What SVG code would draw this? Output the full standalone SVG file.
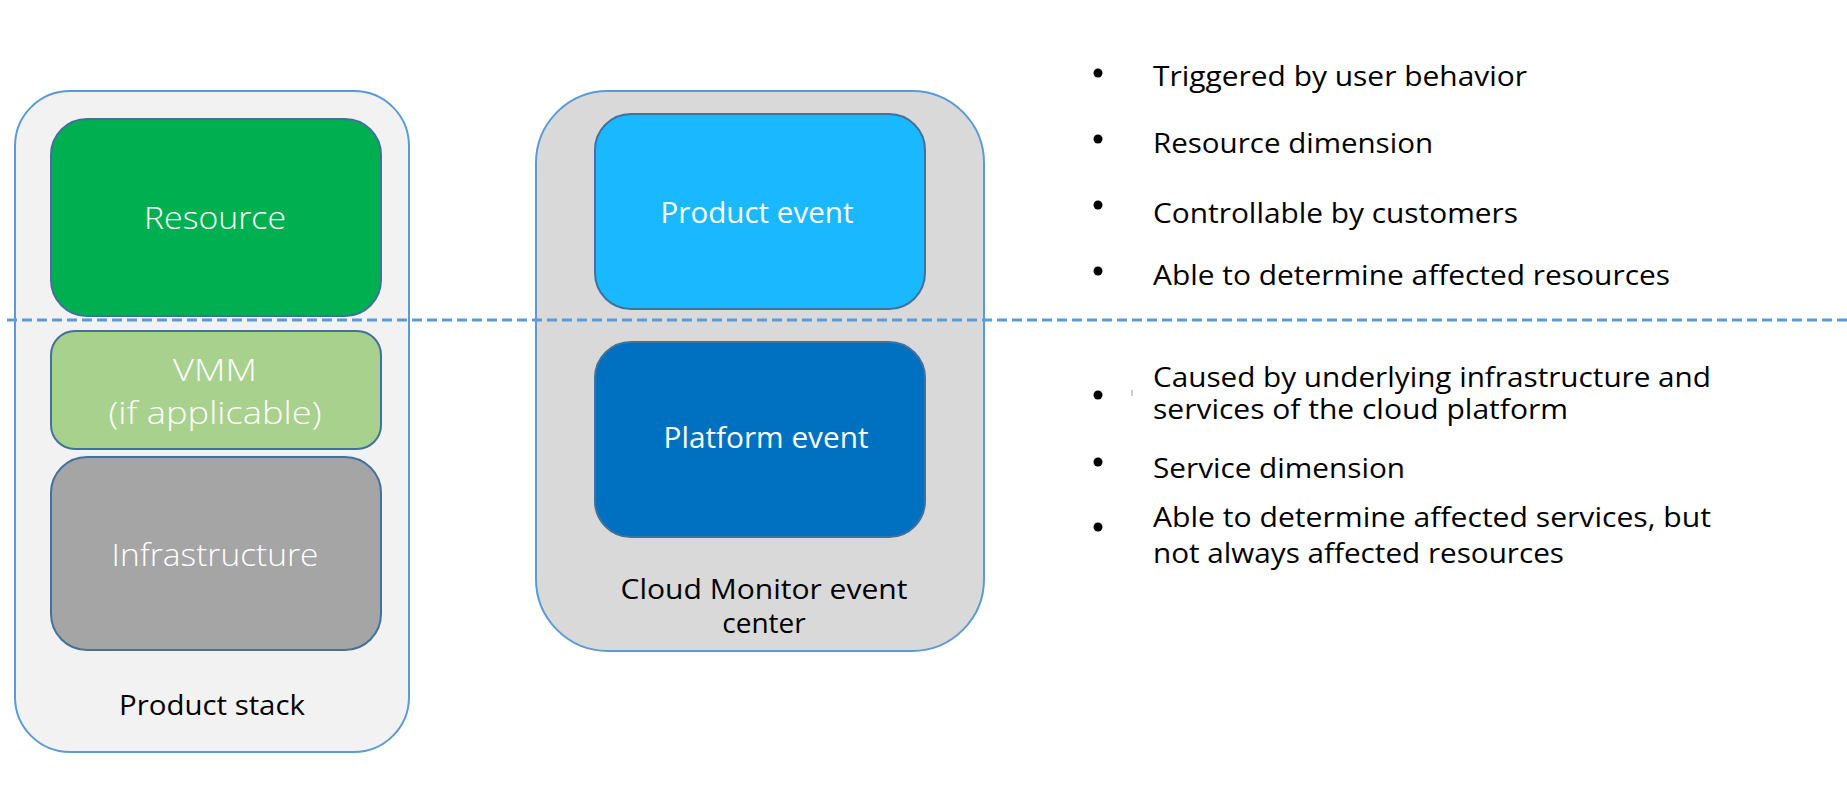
<svg xmlns="http://www.w3.org/2000/svg" width="1847" height="807" viewBox="0 0 1847 807">
<style>
.outer{stroke:#5b9bd5;stroke-width:2}
.inner{stroke:#41719c;stroke-width:2}
.wl{font-family:"Open Sans","Noto Sans",sans-serif;font-weight:300;font-size:31px;fill:#ffffff;text-anchor:middle}
.wr{font-family:"Open Sans","Noto Sans",sans-serif;font-size:29px;fill:#ffffff;text-anchor:middle}
.bk{font-family:"Open Sans","Noto Sans",sans-serif;font-size:28px;fill:#000000;text-anchor:middle}
.bt{font-family:"Open Sans","Noto Sans",sans-serif;font-size:28px;fill:#000000}
.dot{fill:#000000}
</style>
<rect width="1847" height="807" fill="#ffffff"/>
<g id="product-stack">
<rect class="outer" x="15" y="91" width="394" height="661" rx="55" fill="#f2f2f2"/>
<text class="bk" x="212" y="715" textLength="186" lengthAdjust="spacingAndGlyphs">Product stack</text>
</g>
<g id="resource">
<rect class="inner" x="51" y="119" width="330" height="197" rx="36" fill="#00b050"/>
<text class="wl" x="215" y="229" textLength="142" lengthAdjust="spacingAndGlyphs">Resource</text>
</g>
<g id="vmm">
<rect class="inner" x="51" y="331" width="330" height="118" rx="24" fill="#a9d18e"/>
<text class="wl" x="215" y="381" textLength="84" lengthAdjust="spacingAndGlyphs">VMM</text>
<text class="wl" x="215" y="424" textLength="213" lengthAdjust="spacingAndGlyphs">(if applicable)</text>
</g>
<g id="infrastructure">
<rect class="inner" x="51" y="457" width="330" height="193" rx="36" fill="#a5a5a5"/>
<text class="wl" x="215" y="566" textLength="207" lengthAdjust="spacingAndGlyphs">Infrastructure</text>
</g>
<g id="event-center">
<rect class="outer" x="536" y="91" width="448" height="560" rx="72" fill="#d9d9d9"/>
<text class="bk" x="764" y="599" textLength="287" lengthAdjust="spacingAndGlyphs">Cloud Monitor event</text>
<text class="bk" x="764" y="633">center</text>
</g>
<g id="product-event">
<rect class="inner" x="595" y="114" width="330" height="195" rx="36" fill="#1ab8ff"/>
<text class="wr" x="757" y="223" textLength="193" lengthAdjust="spacingAndGlyphs">Product event</text>
</g>
<g id="platform-event">
<rect class="inner" x="595" y="342" width="330" height="195" rx="36" fill="#0070c0"/>
<text class="wr" x="766" y="448" textLength="205" lengthAdjust="spacingAndGlyphs">Platform event</text>
</g>
<g id="connectors">
<line x1="7" y1="320" x2="1847" y2="320" stroke="#5b9bd5" stroke-width="3" stroke-dasharray="10 5"/>
</g>
<g id="product-event-notes">
<circle class="dot" cx="1098" cy="73" r="4.5"/>
<text class="bt" x="1153" y="86" textLength="374" lengthAdjust="spacingAndGlyphs">Triggered by user behavior</text>
<circle class="dot" cx="1098" cy="139" r="4.5"/>
<text class="bt" x="1153" y="153" textLength="280" lengthAdjust="spacingAndGlyphs">Resource dimension</text>
<circle class="dot" cx="1098" cy="205" r="4.5"/>
<text class="bt" x="1153" y="223" textLength="365" lengthAdjust="spacingAndGlyphs">Controllable by customers</text>
<circle class="dot" cx="1098" cy="271" r="4.5"/>
<text class="bt" x="1153" y="285" textLength="517" lengthAdjust="spacingAndGlyphs">Able to determine affected resources</text>
</g>
<g id="platform-event-notes">
<circle class="dot" cx="1098" cy="395" r="4.5"/>
<line x1="1132" y1="390" x2="1132" y2="396" stroke="#999999" stroke-width="1"/>
<text class="bt" x="1153" y="387" textLength="558" lengthAdjust="spacingAndGlyphs">Caused by underlying infrastructure and</text>
<text class="bt" x="1153" y="419" textLength="415" lengthAdjust="spacingAndGlyphs">services of the cloud platform</text>
<circle class="dot" cx="1098" cy="462" r="4.5"/>
<text class="bt" x="1153" y="478" textLength="252" lengthAdjust="spacingAndGlyphs">Service dimension</text>
<circle class="dot" cx="1098" cy="527" r="4.5"/>
<text class="bt" x="1153" y="527" textLength="558" lengthAdjust="spacingAndGlyphs">Able to determine affected services, but</text>
<text class="bt" x="1153" y="563" textLength="411" lengthAdjust="spacingAndGlyphs">not always affected resources</text>
</g>
</svg>
